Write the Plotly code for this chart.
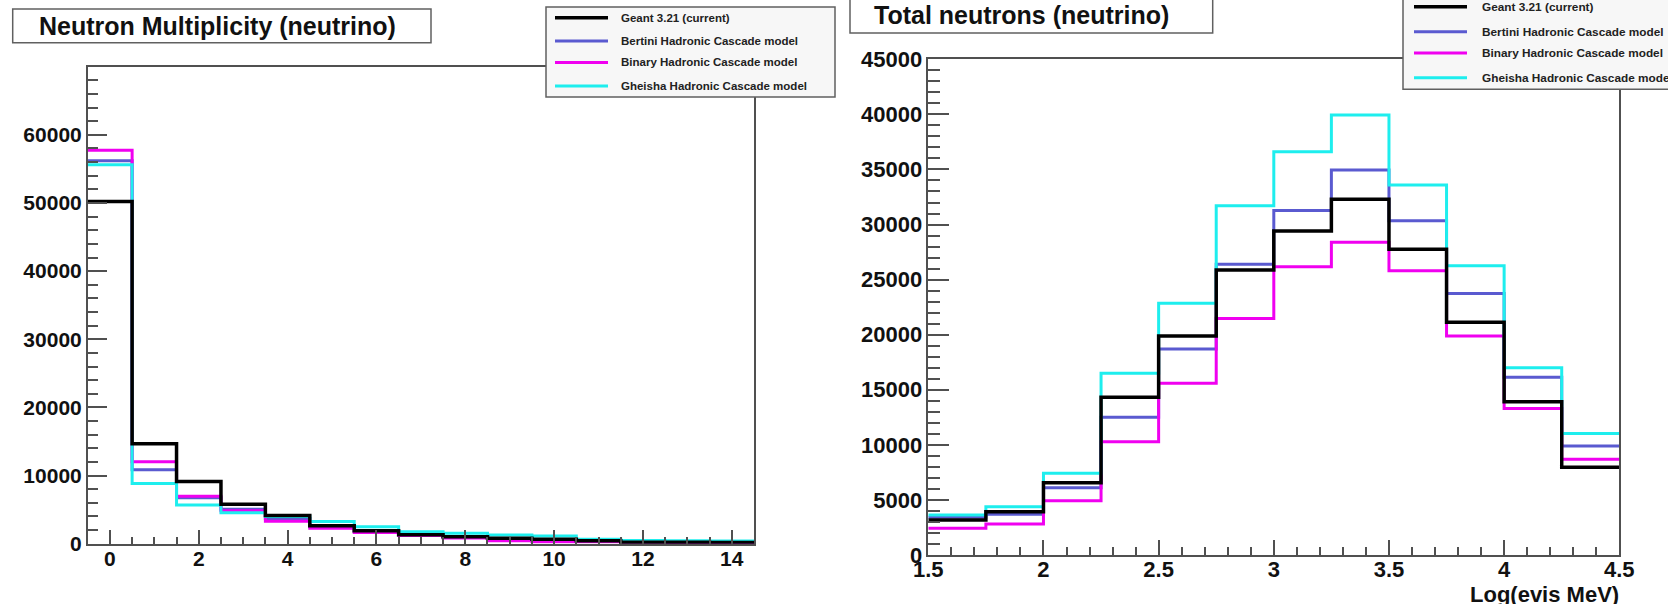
import plotly.graph_objects as go

# ---------------------------------------------------------------------------
# Data
# ---------------------------------------------------------------------------
series_names = [
    "Geant 3.21 (current)",
    "Bertini Hadronic Cascade model",
    "Binary Hadronic Cascade model",
    "Gheisha Hadronic Cascade model",
]
series_colors = ["#000000", "#5a5ad0", "#f000f0", "#1eeeee"]
series_widths = [3.5, 3, 3, 3]

# Neutron multiplicity: integer bins 0..14
mult_bins = list(range(15))
mult_geant = [50200, 14660, 9120, 5790, 4150, 2650, 1910, 1300, 1030, 790, 640, 440, 220, 200, 180]
mult_bertini = [56200, 10840, 6750, 5060, 3680, 2500, 1800, 1350, 1000, 750, 560, 380, 250, 200, 170]
mult_binary = [57750, 12015, 6970, 4850, 3300, 2260, 1650, 1200, 850, 450, 300, 280, 200, 150, 120]
mult_gheisha = [55600, 8824, 5690, 4560, 4000, 3240, 2500, 1760, 1530, 1280, 1130, 640, 480, 440, 400]

# Total neutrons vs log10(visible energy / MeV): bins of 0.25 from 1.5
evis_low_edges = [1.5, 1.75, 2.0, 2.25, 2.5, 2.75, 3.0, 3.25, 3.5, 3.75, 4.0, 4.25]
evis_bin_width = 0.25
tot_geant = [3180, 3930, 6570, 14310, 19880, 25870, 29420, 32290, 27750, 21120, 13920, 7960]
tot_bertini = [3420, 3690, 6110, 12500, 18700, 26390, 31270, 34950, 30350, 23750, 16130, 9900]
tot_binary = [2420, 2810, 4930, 10290, 15590, 21480, 26170, 28390, 25810, 19880, 13310, 8690]
tot_gheisha = [3630, 4390, 7410, 16490, 22850, 31700, 36610, 39940, 33590, 26260, 17000, 11040]

mult_yticks = [0, 10000, 20000, 30000, 40000, 50000, 60000]
tot_yticks = [0, 5000, 10000, 15000, 20000, 25000, 30000, 35000, 40000, 45000]

# ---------------------------------------------------------------------------
# Helpers
# ---------------------------------------------------------------------------
W, H = 1668, 604


def px(x):
    return x / W


def py(y):
    return 1 - y / H


def step_xy(edges_low, width, values):
    """Histogram outline: bin low edges plus the final upper edge."""
    xs = list(edges_low) + [edges_low[-1] + width]
    ys = list(values) + [values[-1]]
    return xs, ys


FONT = "Liberation Sans, Arial, Helvetica, sans-serif"
AXCOL = "#505050"

fig = go.Figure()

mult_series = [mult_geant, mult_bertini, mult_binary, mult_gheisha]
tot_series = [tot_geant, tot_bertini, tot_binary, tot_gheisha]
draw_order = [1, 2, 3, 0]  # Geant drawn last, on top

mult_low = [b - 0.5 for b in mult_bins]
for i in draw_order:
    xs, ys = step_xy(mult_low, 1.0, mult_series[i])
    fig.add_trace(go.Scatter(
        x=xs, y=ys, mode="lines", name=series_names[i],
        line=dict(color=series_colors[i], width=series_widths[i], shape="hv"),
        xaxis="x", yaxis="y", showlegend=False, hoverinfo="skip",
    ))
for i in draw_order:
    xs, ys = step_xy(evis_low_edges, evis_bin_width, tot_series[i])
    fig.add_trace(go.Scatter(
        x=xs, y=ys, mode="lines", name=series_names[i],
        line=dict(color=series_colors[i], width=series_widths[i], shape="hv"),
        xaxis="x2", yaxis="y2", showlegend=False, hoverinfo="skip",
    ))


def axis_common(size):
    return dict(
        automargin=False,
        showline=True, linecolor=AXCOL, linewidth=1.5, mirror=True,
        ticks="inside", tickcolor=AXCOL, tickwidth=1.5,
        showgrid=False, zeroline=False,
        tickfont=dict(family=FONT, size=size, color="#111111", weight="bold"),
    )


fig.update_layout(
    width=W, height=H, autosize=False,
    margin=dict(l=0, r=0, t=0, b=0, pad=0, autoexpand=False),
    paper_bgcolor="white", plot_bgcolor="white",
    showlegend=False,
    xaxis=dict(
        domain=[px(87.7), px(754)], range=[-0.5, 14.5], anchor="y",
        tick0=0, dtick=2, ticklen=14, ticklabelstandoff=-5,
        minor=dict(ticks="inside", tick0=0, dtick=0.5, ticklen=7,
                   tickcolor=AXCOL, tickwidth=1.5),
        **axis_common(21),
    ),
    yaxis=dict(
        domain=[py(543.7), py(66.7)], range=[0, 70000], anchor="x",
        tickmode="array", tickvals=mult_yticks, tickformat="d", ticklen=20,
        minor=dict(ticks="inside", tickmode="linear", tick0=0, dtick=2000,
                   ticklen=11, tickcolor=AXCOL, tickwidth=1.5),
        **axis_common(21),
    ),
    xaxis2=dict(
        domain=[px(928.3), px(1619.3)], range=[1.5, 4.5], anchor="y2",
        tick0=1.5, dtick=0.5, ticklen=15, ticklabelstandoff=-6,
        minor=dict(ticks="inside", tick0=1.5, dtick=0.1, ticklen=8,
                   tickcolor=AXCOL, tickwidth=1.5),
        **axis_common(22),
    ),
    yaxis2=dict(
        domain=[py(555), py(59.3)], range=[0, 45000], anchor="x2",
        tickmode="array", tickvals=tot_yticks, tickformat="d", ticklen=21,
        minor=dict(ticks="inside", tickmode="linear", tick0=0, dtick=1000,
                   ticklen=12, tickcolor=AXCOL, tickwidth=1.5),
        **axis_common(22),
    ),
)

shapes = []
annotations = []

# Title boxes
titles = [
    ("Neutron Multiplicity (neutrino)", (12.7, 9, 431, 42.7), 37, 26),
    ("Total neutrons (neutrino)", (850, -3, 1212.7, 33), 871.7, 15),
]
for text, (x0, y0, x1, y1), tx, ty in titles:
    shapes.append(dict(type="rect", xref="paper", yref="paper",
                       x0=px(x0), x1=px(x1), y0=py(y1), y1=py(y0),
                       line=dict(color="#606060", width=1.5), fillcolor="white", layer="above"))
    annotations.append(dict(text=text, xref="paper", yref="paper",
                            x=px(tx), y=py(ty), xanchor="left", yanchor="middle",
                            showarrow=False,
                            font=dict(family=FONT, size=25, color="#111111", weight="bold")))

# Legend boxes
legends = [
    dict(box=(546, 7, 835, 97), line_x=(555, 608), text_x=619,
         rows=[17.7, 41, 62.5, 86], size=11.5),
    dict(box=(1403, -5, 1700, 89.3), line_x=(1414, 1467), text_x=1480,
         rows=[6.7, 31.7, 53, 77.7], size=11.8),
]
for lg in legends:
    x0, y0, x1, y1 = lg["box"]
    shapes.append(dict(type="rect", xref="paper", yref="paper",
                       x0=px(x0), x1=px(x1), y0=py(y1), y1=py(y0),
                       line=dict(color="#606060", width=1.5), fillcolor="#f7f7f7", layer="above"))
    for i, ry in enumerate(lg["rows"]):
        shapes.append(dict(type="line", xref="paper", yref="paper",
                           x0=px(lg["line_x"][0]), x1=px(lg["line_x"][1]),
                           y0=py(ry), y1=py(ry), layer="above",
                           line=dict(color=series_colors[i], width=series_widths[i])))
        annotations.append(dict(text=series_names[i], xref="paper", yref="paper",
                                x=px(lg["text_x"]), y=py(ry), xanchor="left", yanchor="middle",
                                showarrow=False,
                                font=dict(family=FONT, size=lg["size"], color="#222222", weight="bold")))

# x-axis title of the energy plot
annotations.append(dict(text="Log(evis MeV)", xref="paper", yref="paper",
                        x=px(1621), y=py(594), xanchor="right", yanchor="middle",
                        showarrow=False,
                        font=dict(family=FONT, size=22, color="#111111", weight="bold")))

fig.update_layout(shapes=shapes, annotations=annotations)
fig.write_html("out.html")
